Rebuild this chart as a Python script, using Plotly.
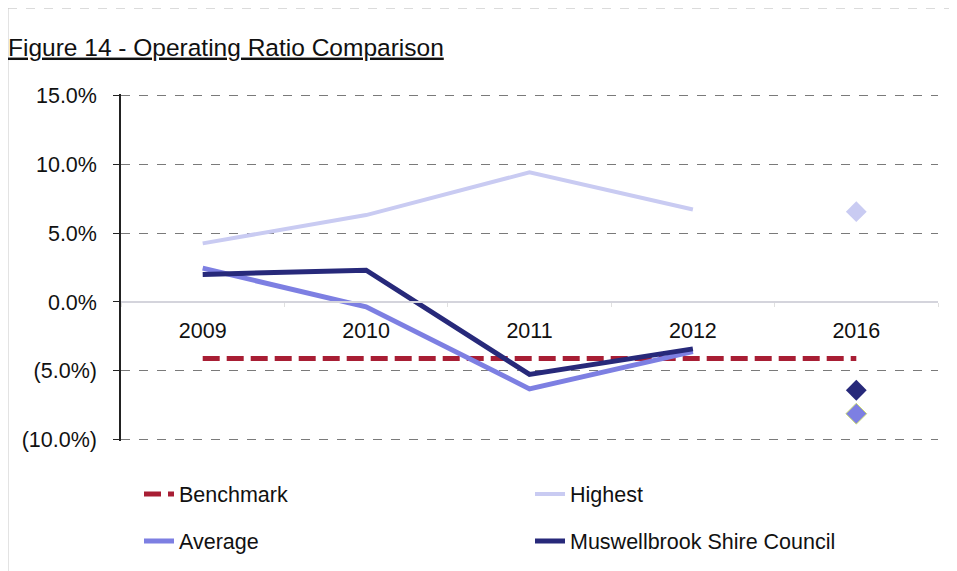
import plotly.graph_objects as go

years = ["2009", "2010", "2011", "2012", "2016"]
line_years = ["2009", "2010", "2011", "2012"]
benchmark = [-4.1, -4.1, -4.1, -4.1, -4.1]
highest = [4.25, 6.3, 9.4, 6.7]
average = [2.45, -0.35, -6.3, -3.6]
muswellbrook = [2.0, 2.3, -5.25, -3.4]
highest_2016 = [6.55]
average_2016 = [-8.1]
muswellbrook_2016 = [-6.4]
y_ticks = [-10, -5, 0, 5, 10, 15]
y_tick_labels = ["(10.0%)", "(5.0%)", "0.0%", "5.0%", "10.0%", "15.0%"]

FONT = "Liberation Sans, Arial, sans-serif"
FS = 21.5
C_BENCH = "#A81E34"
C_HIGH = "#C9CBF2"
C_AVG = "#7D7FE2"
C_MUS = "#27297A"

# page body has an 8px offset; work in figure pixels (screen - 8)
OFF = 8
W, H = 957, 571
L, T = 121 - OFF, 94 - OFF
R, B = W - (938 - OFF), H - (441 - OFF)
PW, PH = W - L - R, H - T - B


def px_x(p):
    return (p - OFF - L) / PW


def px_y(p):
    return (H - B - (p - OFF)) / PH


fig = go.Figure()
fig.add_trace(go.Scatter(x=years, y=benchmark, mode="lines", name="Benchmark", legend="legend",
                         line=dict(color=C_BENCH, width=5, dash="17px,7px")))
fig.add_trace(go.Scatter(x=line_years, y=highest, mode="lines", name="Highest", legend="legend",
                         line=dict(color=C_HIGH, width=4)))
fig.add_trace(go.Scatter(x=line_years, y=average, mode="lines", name="Average", legend="legend2",
                         line=dict(color=C_AVG, width=5)))
fig.add_trace(go.Scatter(x=line_years, y=muswellbrook, mode="lines", name="Muswellbrook Shire Council",
                         legend="legend2", line=dict(color=C_MUS, width=5)))
fig.add_trace(go.Scatter(x=["2016"], y=highest_2016, mode="markers", showlegend=False,
                         marker=dict(symbol="diamond", size=16, color=C_HIGH)))
fig.add_trace(go.Scatter(x=["2016"], y=average_2016, mode="markers", showlegend=False,
                         marker=dict(symbol="diamond", size=16, color=C_AVG,
                                     line=dict(color="#C8D870", width=1))))
fig.add_trace(go.Scatter(x=["2016"], y=muswellbrook_2016, mode="markers", showlegend=False,
                         marker=dict(symbol="diamond", size=16, color=C_MUS)))

legend_common = dict(orientation="h", xanchor="left", yanchor="middle",
                     entrywidth=346, entrywidthmode="pixels",
                     font=dict(size=FS, family=FONT, color="#111"), bgcolor="rgba(0,0,0,0)")

fig.update_layout(
    width=W, height=H,
    margin=dict(l=L, r=R, t=T, b=B),
    paper_bgcolor="white", plot_bgcolor="white",
    font=dict(family=FONT, size=FS, color="#111"),
    title=dict(text="<u>Figure 14 - Operating Ratio Comparison</u>",
               x=0, xref="container", xanchor="left",
               y=1 - (47 - OFF) / H, yref="container", yanchor="middle",
               pad=dict(l=0),
               font=dict(family=FONT, size=24.5, color="#111")),
    xaxis=dict(type="category", categoryorder="array", categoryarray=years,
               range=[-0.5, 4.5],
               anchor="free", position=0.4, showgrid=False,
               showline=True, linecolor="#D4D4DC", linewidth=2,
               ticks="outside", tickson="boundaries", ticklen=4, tickcolor="#E0E0E0",
               ticklabelstandoff=9, tickfont=dict(size=FS, family=FONT)),
    yaxis=dict(range=[-10.08, 15.08], tickvals=y_ticks, ticktext=y_tick_labels,
               showgrid=True, gridcolor="#7A7A7A", griddash="dash", gridwidth=1,
               zeroline=False, showline=True, linecolor="#222", linewidth=1.5,
               ticks="outside", ticklen=6, tickcolor="#222",
               ticklabelstandoff=12, tickfont=dict(size=FS, family=FONT)),
    legend=dict(x=px_x(139), y=px_y(494), **legend_common),
    legend2=dict(x=px_x(139), y=px_y(541), **legend_common),
    showlegend=True,
)

fig.add_shape(type="line", xref="paper", yref="paper",
              x0=px_x(8), x1=px_x(W + OFF), y0=px_y(8), y1=px_y(8),
              line=dict(color="#B8B8B8", width=1, dash="dash"))
fig.add_shape(type="line", xref="paper", yref="paper",
              x0=px_x(8), x1=px_x(8), y0=px_y(8), y1=px_y(H + OFF),
              line=dict(color="#C8C8C8", width=1))

fig.write_html("out.html")
